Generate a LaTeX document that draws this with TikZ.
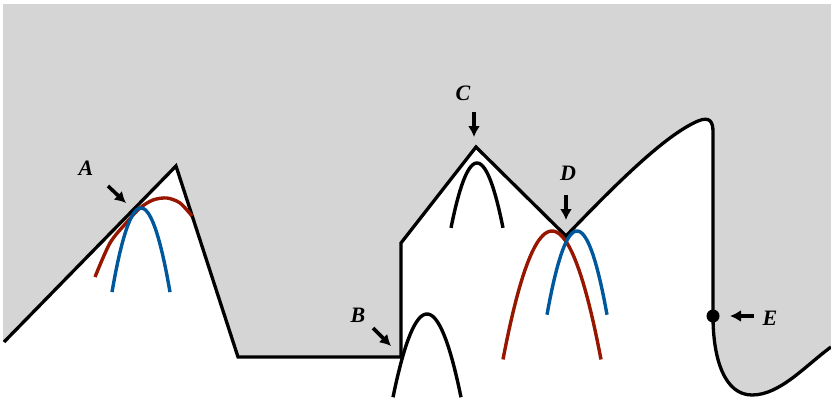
\documentclass[tikz,border=0pt]{standalone}
\usepackage{fontspec}
\setmainfont{Liberation Serif}
\usetikzlibrary{arrows.meta}
\definecolor{bggray}{RGB}{213,213,213}
\definecolor{curvered}{RGB}{150,22,0}
\definecolor{curveblue}{RGB}{0,88,156}
\begin{document}
\begin{tikzpicture}[x=1pt,y=-1pt,
  lbl/.style={font=\fontsize{22}{22}\selectfont\bfseries\itshape, inner sep=0pt},
  pointer/.style={line width=3.6pt, -{Latex[length=11pt,width=12pt]}},
  edge/.style={line width=3.3pt, line join=miter},
  para/.style={line width=3.4pt},
]
\useasboundingbox (0,0) rectangle (831,399);
% gray region
\fill[bggray] (3,4) -- (3,342) -- (4,342) -- (176,166) -- (238,357) -- (401,357) -- (401,243)
  -- (476,147) -- (566,236) .. controls (615,185) and (665,135) .. (698,121)
  .. controls (710,116) and (713,122) .. (713,132) -- (713,316)
  .. controls (713,360) and (725,395) .. (752,395)
  .. controls (780,395) and (805,366) .. (831,347) -- (831,4) -- cycle;
% boundary
\draw[edge] (4,342) -- (176,166) -- (238,357) -- (401,357) -- (401,243)
  -- (476,147) -- (566,236) .. controls (615,185) and (665,135) .. (698,121)
  .. controls (710,116) and (713,122) .. (713,132) -- (713,316)
  .. controls (713,360) and (725,395) .. (752,395)
  .. controls (780,395) and (805,366) .. (831,347);
% curves at A
\draw[para, curvered] plot[smooth] coordinates {(95,277) (110,243) (127,222) (140,208) (153,200) (167,198) (180,203) (192,216)};
\draw[para, curveblue] plot[domain=112:170, samples=40] (\x, {208 + 0.1*(\x-141)^2});
% curve at B
\draw[para, black] plot[domain=393:461, samples=40] (\x, {314 + 0.072*(\x-427)^2});
% curve at C
\draw[para, black] plot[domain=451:503, samples=40] (\x, {163 + 0.096*(\x-477)^2});
% curves at D
\draw[para, curvered] plot[domain=503:601, samples=50] (\x, {231 + 0.0535*(\x-552)^2});
\draw[para, curveblue] plot[domain=547:607, samples=40] (\x, {231 + 0.093*(\x-577)^2});
% point E
\fill (713,316) circle (6.5);
% labels
\node[lbl] (la) at (86,168) {A};
\node[lbl] (lb) at (358,315) {B};
\node[lbl] (lc) at (463,93) {C};
\node[lbl] (ld) at (568,173) {D};
\node[lbl] (le) at (770,318) {E};
% pointers
\coordinate (a1) at (108,186); \coordinate (a2) at (126,203);
\coordinate (b1) at (373,328); \coordinate (b2) at (391,346);
\coordinate (c1) at (474,112); \coordinate (c2) at (474,137);
\coordinate (d1) at (566,195); \coordinate (d2) at (566,220);
\coordinate (e1) at (754,316); \coordinate (e2) at (730,316);
\draw[pointer] (a1) -- (a2);
\draw[pointer] (b1) -- (b2);
\draw[pointer] (c1) -- (c2);
\draw[pointer] (d1) -- (d2);
\draw[pointer] (e1) -- (e2);
\end{tikzpicture}
\end{document}
